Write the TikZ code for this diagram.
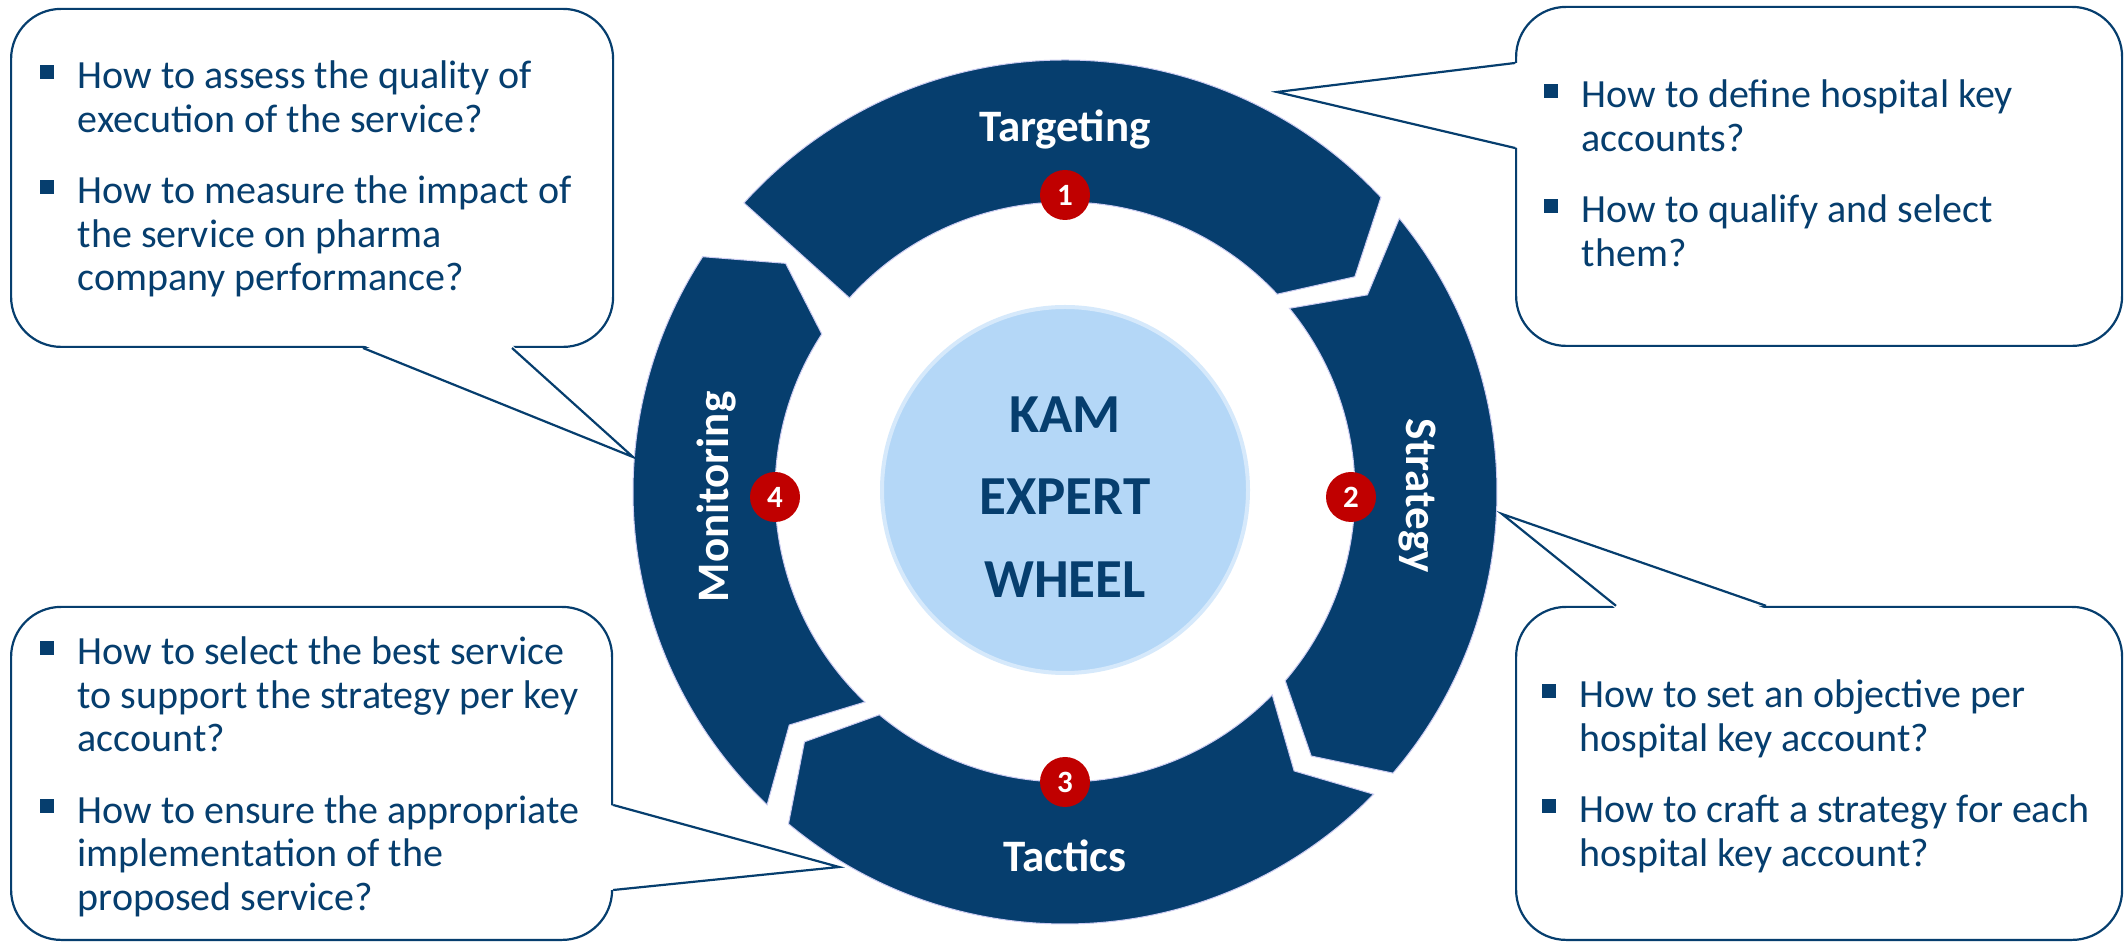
\documentclass[tikz,border=0pt]{standalone}
\usepackage{fontspec}
\setmainfont{Carlito}
\usetikzlibrary{calc, positioning}

\definecolor{kamblue}{RGB}{6,62,110}
\definecolor{kamred}{RGB}{192,0,0}
\definecolor{hubblue}{RGB}{180,215,247}
\definecolor{rimlilac}{RGB}{204,204,242}

% square bullet of the question lists
\newcommand{\qbullet}{\rule[10pt]{14pt}{14pt}}

\tikzset{
    piece/.style={fill=kamblue, draw=rimlilac, line width=1pt},
    piecelabel/.style={text=white, inner sep=0pt,
        font=\bfseries\fontsize{45pt}{45pt}\selectfont},
    badge/.style={circle, fill=kamred, text=white, minimum size=50pt,
        inner sep=0pt, font=\bfseries\fontsize{31pt}{31pt}\selectfont},
    hub/.style={circle, fill=hubblue, draw=hubblue!55!white,
        line width=4pt, minimum size=366pt, inner sep=0pt},
    hubtext/.style={text=kamblue, align=center, inner sep=0pt,
        font=\bfseries\fontsize{55pt}{82.5pt}\selectfont},
    qbox/.style={draw=kamblue, line width=2.2pt, fill=white,
        rounded corners=50pt, inner sep=0pt, anchor=south west},
    qtext/.style={text=kamblue, inner sep=0pt, anchor=base west,
        font=\fontsize{40pt}{43.5pt}\selectfont},
    tail/.style={draw=kamblue, line width=2.2pt, line join=miter},
}

\begin{document}
\begin{tikzpicture}[x=1pt, y=1pt]
    \fill[white] (0,0) rectangle (2125,945);
    \useasboundingbox (0,0) rectangle (2125,945);

    % wheel
    \begin{scope}[shift={(1065,453)}]
        \path[piece] (138:432) arc[start angle=138, end angle=43, radius=432pt]
            -- (36.6:361) -- (43:290)
            arc[start angle=43, end angle=138, radius=290pt] -- cycle;
        \path[piece] (39.3:432) arc[start angle=39.3, end angle=-40.6, radius=432pt]
            -- (-47:361) -- (-40.6:290)
            arc[start angle=-40.6, end angle=39.3, radius=290pt] -- (33.1:361) -- cycle;
        \path[piece] (-44.4:432) arc[start angle=-44.4, end angle=-129.8, radius=432pt]
            -- (-136.2:361) -- (-129.8:290)
            arc[start angle=-129.8, end angle=-44.4, radius=290pt] -- (-50.6:361) -- cycle;
        \path[piece] (-133.6:432) arc[start angle=-133.6, end angle=-213, radius=432pt]
            -- (-219.3:361) -- (-213:290)
            arc[start angle=-213, end angle=-133.6, radius=290pt] -- (-139.8:361) -- cycle;
    \end{scope}

    \node[piecelabel] (lbltarget) at (1065,815) {Targeting};
    \node[piecelabel, rotate=-90] (lblstrategy) at (1417,449) {Strategy};
    \node[piecelabel] (lbltactics) at (1065,89) {Tactics};
    \node[piecelabel, rotate=90] (lblmonitor) at (717,448) {Monitoring};

    \node[badge] (n1) at (1065,750) {1};
    \node[badge] (n2) at (1351,448) {2};
    \node[badge] (n3) at (1065,163) {3};
    \node[badge] (n4) at (775,448) {4};

    \node[hub] (hub) at (1065,455) {};
    \node[hubtext] (hubtxt) at (1065,448) {KAM\\EXPERT\\WHEEL};

    % question boxes
    \node[qbox, minimum width=602pt, minimum height=338pt] (tlbox) at (10,597) {};
    \node[qbox, minimum width=606pt, minimum height=339pt] (trbox) at (1515,598) {};
    \node[qbox, minimum width=601pt, minimum height=333pt] (blbox) at (10,4) {};
    \node[qbox, minimum width=606pt, minimum height=333pt] (brbox) at (1515,4) {};

    \coordinate (tltip) at (633,488);
    \coordinate (trtip) at (1277,853);
    \coordinate (bltip) at (839,78);
    \coordinate (brtip) at (1502,431);

    \fill[white] ($(tlbox.south west)+(353,3)$) -- (tltip) -- ($(tlbox.south west)+(502,3)$) -- cycle;
    \draw[tail] ($(tlbox.south west)+(353,0)$) -- (tltip) -- ($(tlbox.south west)+(502,0)$);
    \fill[white] ($(trbox.south west)+(3,284)$) -- (trtip) -- ($(trbox.south west)+(3,199)$) -- cycle;
    \draw[tail] ($(trbox.south west)+(0,284)$) -- (trtip) -- ($(trbox.south west)+(0,199)$);
    \fill[white] ($(blbox.south east)+(-3,136)$) -- (bltip) -- ($(blbox.south east)+(-3,51)$) -- cycle;
    \draw[tail] ($(blbox.south east)+(0,136)$) -- (bltip) -- ($(blbox.south east)+(0,51)$);
    \fill[white] ($(brbox.north west)+(101,-3)$) -- (brtip) -- ($(brbox.north west)+(251,-3)$) -- cycle;
    \draw[tail] ($(brbox.north west)+(101,0)$) -- (brtip) -- ($(brbox.north west)+(251,0)$);

    \node[qtext] (tltext) at (40,856) {%
        \setlength{\tabcolsep}{0pt}%
        \begin{tabular}[t]{@{}l@{\hspace{23.5pt}}l@{}}
            \qbullet & How to assess the quality of\\
            & execution of the service?\\[28pt]
            \qbullet & How to measure the impact of\\
            & the service on pharma\\
            & company performance?
        \end{tabular}};
    \node[qtext] (trtext) at (1544,837) {%
        \setlength{\tabcolsep}{0pt}%
        \begin{tabular}[t]{@{}l@{\hspace{23.5pt}}l@{}}
            \qbullet & How to define hospital key\\
            & accounts?\\[28pt]
            \qbullet & How to qualify and select\\
            & them?
        \end{tabular}};
    \node[qtext] (bltext) at (40,280) {%
        \setlength{\tabcolsep}{0pt}%
        \begin{tabular}[t]{@{}l@{\hspace{23.5pt}}l@{}}
            \qbullet & How to select the best service\\
            & to support the strategy per key\\
            & account?\\[28pt]
            \qbullet & How to ensure the appropriate\\
            & implementation of the\\
            & proposed service?
        \end{tabular}};
    \node[qtext] (brtext) at (1542,237) {%
        \setlength{\tabcolsep}{0pt}%
        \begin{tabular}[t]{@{}l@{\hspace{23.5pt}}l@{}}
            \qbullet & How to set an objective per\\
            & hospital key account?\\[28pt]
            \qbullet & How to craft a strategy for each\\
            & hospital key account?
        \end{tabular}};
\end{tikzpicture}
\end{document}
